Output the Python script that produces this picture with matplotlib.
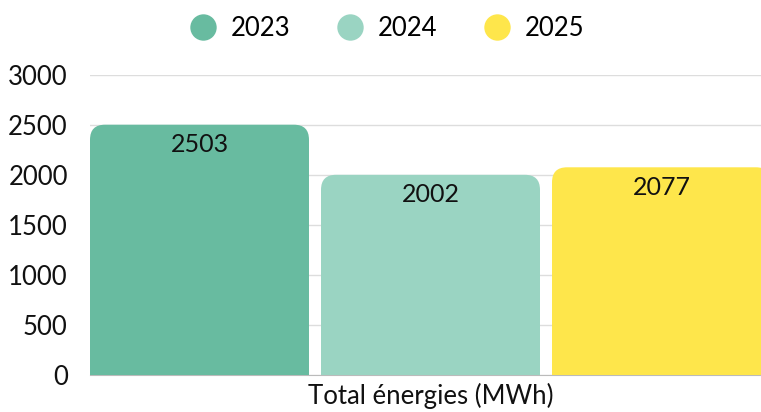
import matplotlib
matplotlib.use("Agg")
import matplotlib.pyplot as plt
from matplotlib.path import Path
from matplotlib.patches import PathPatch
from matplotlib.lines import Line2D

plt.rcParams['font.family'] = ['Lato', 'DejaVu Sans']

# données
years = ['2023', '2024', '2025']
values = [2503, 2002, 2077]
colors = ['#68bba0', '#9ad4c2', '#fee64b']
category = 'Total énergies (MWh)'
yticks = [0, 500, 1000, 1500, 2000, 2500, 3000]

W, H, DPI = 761, 412, 100
fig = plt.figure(figsize=(W / DPI, H / DPI), dpi=DPI)
# la zone du graphique dépasse à droite (barre 2025 coupée)
ax = fig.add_axes([90 / W, 37 / H, (771 - 90) / W, (375 - 75) / H])

width = 0.948
pos = [-1, 0, 1]
ax.set_xlim(-1 - width / 2, 1 + width / 2)
ax.set_ylim(0, 3000)

# rayon des coins en pixels -> unités de données
r_px = 15
ax_w_px = 771 - 90
ax_h_px = 375 - 75
rx = r_px * (2 + width) / ax_w_px
ry = r_px * 3000 / ax_h_px

for x, v, c in zip(pos, values, colors):
    x0, x1 = x - width / 2, x + width / 2
    verts = [(x0, 0), (x0, v - ry), (x0, v), (x0 + rx, v),
             (x1 - rx, v), (x1, v), (x1, v - ry), (x1, 0), (x0, 0)]
    codes = [Path.MOVETO, Path.LINETO, Path.CURVE3, Path.CURVE3,
             Path.LINETO, Path.CURVE3, Path.CURVE3, Path.LINETO, Path.CLOSEPOLY]
    ax.add_patch(PathPatch(Path(verts, codes), facecolor=c, edgecolor='none', zorder=3))
    ax.annotate(str(v), (x, v), xytext=(0, -20), textcoords='offset pixels',
                ha='center', va='center', fontsize=18, color='#111111', zorder=4)

ax.set_yticks(yticks)
ax.set_yticklabels([str(t) for t in yticks])
ax.grid(axis='y', color='#dddddd', linewidth=1, zorder=0)
ax.set_xticks([0])
ax.set_xticklabels([category])
ax.tick_params(axis='both', length=0, labelsize=18.5, colors='#111111')
ax.tick_params(axis='x', pad=6)
ax.tick_params(axis='y', pad=16)
for s in ['top', 'right', 'left']:
    ax.spines[s].set_visible(False)
ax.spines['bottom'].set_color('#bbbbbb')
ax.spines['bottom'].set_zorder(1)

handles = [Line2D([], [], marker='o', linestyle='none', markersize=19,
                  markerfacecolor=c, markeredgecolor='none') for c in colors]
fig.legend(handles, years, loc='center', bbox_to_anchor=(386 / W, 1 - 28 / H),
           ncol=3, frameon=False, fontsize=18.5, handletextpad=0.45,
           columnspacing=1.75, handlelength=1.2)

fig.savefig('out.png', dpi=DPI)
